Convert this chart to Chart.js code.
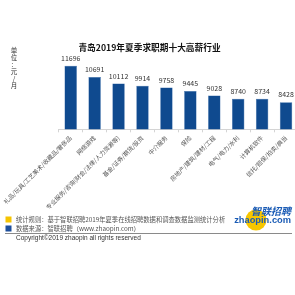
<!DOCTYPE html>
<html>
<head>
<meta charset="utf-8">
<script src="https://cdn.jsdelivr.net/npm/chart.js@4"></script>
<style>
html,body{margin:0;padding:0;background:#fff;overflow:hidden;width:295px;height:295px;}
#wrap{position:absolute;left:0;top:0;width:298px;height:295px;}
</style>
</head>
<body>
<div id="wrap"><canvas id="c" width="298" height="295"></canvas></div>
<script>
const categories = [
  "礼品/玩具/工艺美术/收藏品/奢侈品",
  "网络游戏",
  "专业服务/咨询(财会/法律/人力资源等)",
  "基金/证券/期货/投资",
  "中介服务",
  "保险",
  "房地产/建筑/建材/工程",
  "电气/电力/水利",
  "计算机软件",
  "信托/担保/拍卖/典当"
];
const salaries = [11696, 10691, 10112, 9914, 9758, 9445, 9028, 8740, 8734, 8428];
const titleText = "青岛2019年夏季求职期十大高薪行业";
const unitText = ["单","位","：","元","/","月"];
const noteRule = "统计规则：基于智联招聘2019年夏季在线招聘数据和调查数据监测统计分析";
const noteSource = "数据来源：智联招聘（www.zhaopin.com）";
const copyrightText = "Copyright©2019 zhaopin all rights reserved";

const CJK = '"Noto Sans CJK SC", "Noto Sans", sans-serif';

const decor = {
  id: 'decor',
  afterDatasetsDraw(chart) {
    const ctx = chart.ctx;
    const meta = chart.getDatasetMeta(0);
    ctx.save();
    ctx.fillStyle = '#333';
    ctx.font = '7px ' + CJK;
    ctx.textAlign = 'center';
    ctx.textBaseline = 'bottom';
    meta.data.forEach((bar, i) => {
      ctx.fillText(String(salaries[i]), bar.x, bar.y - 4);
    });
    ctx.restore();
  },
  afterDraw(chart) {
    const ctx = chart.ctx;
    ctx.save();
    ctx.fillStyle = '#111';
    ctx.font = 'bold 8.7px ' + CJK;
    ctx.textAlign = 'center';
    ctx.textBaseline = 'middle';
    ctx.fillText(titleText, 149.5, 48);
    ctx.fillStyle = '#333';
    ctx.font = '6.5px ' + CJK;
    unitText.forEach((ch, i) => {
      ctx.fillText(ch, 14, 51 + i * 7);
    });
    ctx.fillStyle = '#F5C400';
    ctx.fillRect(5.5, 216.5, 6, 6);
    ctx.fillStyle = '#1D4F9C';
    ctx.fillRect(5.5, 225.5, 6, 6);
    ctx.fillStyle = '#555';
    ctx.font = '6.3px ' + CJK;
    ctx.textAlign = 'left';
    ctx.fillText(noteRule, 16, 220);
    ctx.fillText(noteSource, 16, 229);
    ctx.strokeStyle = '#8a8a8a';
    ctx.lineWidth = 1;
    ctx.beginPath();
    ctx.moveTo(5, 233.5);
    ctx.lineTo(292, 233.5);
    ctx.stroke();
    ctx.fillStyle = '#333';
    ctx.font = '6.5px "Liberation Sans", sans-serif';
    ctx.fillText(copyrightText, 16, 238.5);
    ctx.fillStyle = '#F7C600';
    ctx.beginPath();
    ctx.arc(256, 220, 10.5, 0, Math.PI * 2);
    ctx.fill();
    ctx.fillStyle = '#1A5BB5';
    ctx.font = 'italic bold 10px ' + CJK;
    ctx.textAlign = 'right';
    ctx.fillText('智联招聘', 291, 211.5);
    ctx.font = 'bold 9.3px "Liberation Sans", sans-serif';
    ctx.fillText('zhaopin.com', 291, 220.5);
    ctx.restore();
  }
};

new Chart(document.getElementById('c'), {
  type: 'bar',
  data: {
    labels: categories,
    datasets: [{
      data: salaries,
      backgroundColor: '#0F4A8F',
      borderColor: '#2F64A6',
      borderWidth: 0.5,
      barPercentage: 0.52,
      categoryPercentage: 1
    }]
  },
  options: {
    responsive: false,
    animation: false,
    devicePixelRatio: 1,
    layout: { padding: { left: 53.3, right: 0, top: 62.4, bottom: 65.7 } },
    plugins: { legend: { display: false }, tooltip: { enabled: false }, title: { display: false } },
    scales: {
      x: {
        offset: true,
        grid: { display: true, drawOnChartArea: false, drawTicks: true, tickLength: 3, color: '#d4d4d4', offset: true },
        border: { color: '#d4d4d4' },
        ticks: {
          autoSkip: false, minRotation: 45, maxRotation: 45, padding: 2,
          color: '#555', font: { size: 6, family: CJK }
        },
        afterFit(scale) { scale.height = 100; }
      },
      y: { display: false, min: 6000, max: 12000 }
    }
  },
  plugins: [decor]
});
</script>
</body>
</html>
